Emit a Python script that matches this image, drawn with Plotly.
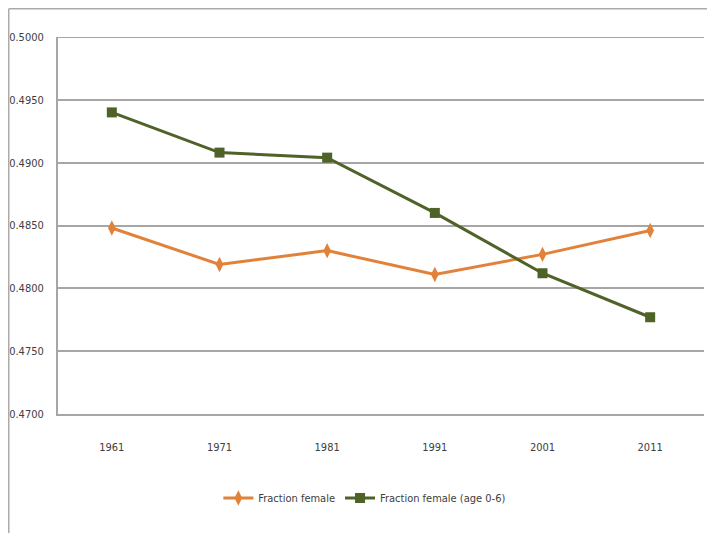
import plotly.graph_objects as go

years = ["1961", "1971", "1981", "1991", "2001", "2011"]
fraction_female = [0.4848, 0.4819, 0.4830, 0.4811, 0.4827, 0.4846]
fraction_female_0_6 = [0.4940, 0.4908, 0.4904, 0.4860, 0.4812, 0.4777]
y_ticks = [0.47, 0.475, 0.48, 0.485, 0.49, 0.495, 0.50]
y_tick_labels = ["0.4700", "0.4750", "0.4800", "0.4850", "0.4900", "0.4950", "0.5000"]

FONT = "DejaVu Sans Condensed, Liberation Sans Narrow, Arial Narrow, sans-serif"
ORANGE = "#E2823A"
GREEN = "#4F6228"
TXT = "#404040"
GRID = "#A6A6A6"

fig = go.Figure()
fig.add_trace(go.Scatter(
    x=years, y=fraction_female, name="Fraction female",
    mode="lines+markers",
    line=dict(color=ORANGE, width=3),
    marker=dict(symbol="diamond-tall", size=11, color=ORANGE),
))
fig.add_trace(go.Scatter(
    x=years, y=fraction_female_0_6, name="Fraction female (age 0-6)",
    mode="lines+markers",
    line=dict(color=GREEN, width=3),
    marker=dict(symbol="square", size=10, color=GREEN),
))

L, R, T, B = 50, 19, 29, 127
W, H = 715, 533
pw, ph = W - L - R, H - T - B

# top gridline (plotly drops grid lines sitting on the range edge)
fig.add_hline(y=y_ticks[-1], line=dict(color=GRID, width=2), layer="below")

frame_color = "#ABABAB"
fy = 1 + (T - 0.75) / ph
fx = (0.75 - L) / pw
fig.add_shape(type="line", xref="paper", yref="paper",
              x0=fx, x1=(W + 10 - L) / pw, y0=fy, y1=fy,
              line=dict(color=frame_color, width=1.5))
fig.add_shape(type="line", xref="paper", yref="paper",
              x0=fx, x1=fx, y0=fy, y1=-(B + 10) / ph,
              line=dict(color=frame_color, width=1.5))

fig.update_layout(
    width=W, height=H,
    margin=dict(l=L, r=R, t=T, b=B, autoexpand=False),
    paper_bgcolor="white", plot_bgcolor="white",
    font=dict(family=FONT, size=11, color=TXT),
    showlegend=True,
    legend=dict(orientation="h", x=0.475, xanchor="center", y=-0.223, yanchor="middle",
                font=dict(family=FONT, size=11, color=TXT),
                itemwidth=30, tracegroupgap=0),
    xaxis=dict(type="category", range=[-0.5, 5.5], showgrid=False,
               showline=True, linecolor=GRID, linewidth=2, automargin=False,
               ticks="", ticklabelstandoff=22,
               tickfont=dict(family=FONT, size=11, color=TXT)),
    yaxis=dict(range=[0.47, 0.50], tickvals=y_ticks, ticktext=y_tick_labels,
               showgrid=True, gridcolor=GRID, gridwidth=2,
               showline=True, linecolor=GRID, linewidth=2, automargin=False,
               zeroline=False, ticks="", ticklabelstandoff=10,
               tickfont=dict(family=FONT, size=11, color=TXT)),
)

fig.write_html("out.html")
